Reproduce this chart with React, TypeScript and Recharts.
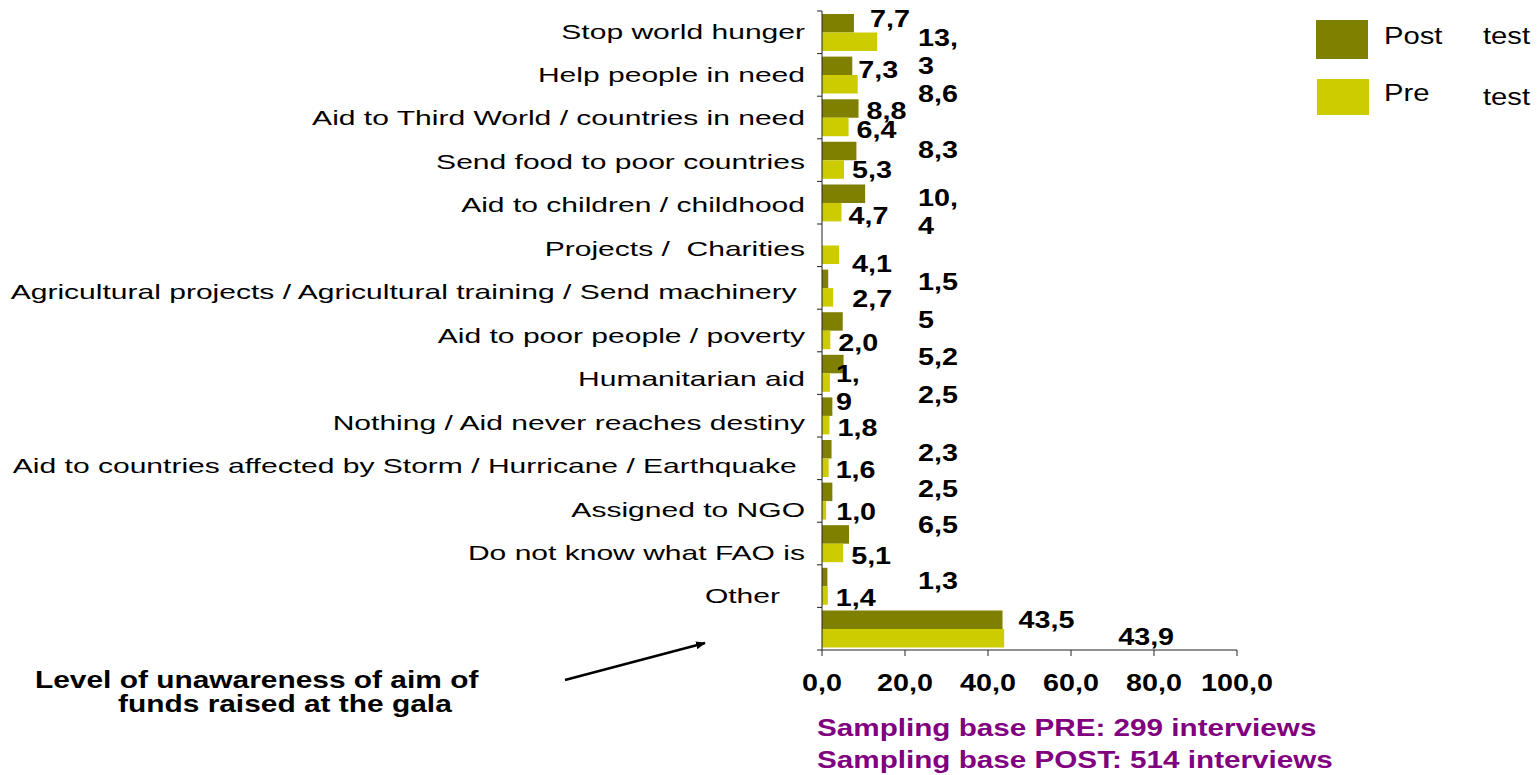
import React from 'react';
import { BarChart, Bar, XAxis, YAxis, LabelList } from 'recharts';

// Categorías (de arriba hacia abajo); la última fila es el "nivel de desconocimiento"
const CATEGORIES = [
  'Stop world hunger',
  'Help people in need',
  'Aid to Third World / countries in need',
  'Send food to poor countries',
  'Aid to children / childhood',
  'Projects /  Charities',
  'Agricultural projects / Agricultural training / Send machinery ',
  'Aid to poor people / poverty',
  'Humanitarian aid',
  'Nothing / Aid never reaches destiny',
  'Aid to countries affected by Storm / Hurricane / Earthquake ',
  'Assigned to NGO',
  'Do not know what FAO is',
  'Other   ',
  '',
];

const POST_TEST = [7.7, 7.3, 8.8, 8.3, 10.4, null, 1.5, 5, 5.2, 2.5, 2.3, 2.5, 6.5, 1.3, 43.5];
const PRE_TEST = [13.3, 8.6, 6.4, 5.3, 4.7, 4.1, 2.7, 2.0, 1.9, 1.8, 1.6, 1.0, 5.1, 1.4, 43.9];

const X_TICKS = [0, 20, 40, 60, 80, 100];

// Posición de las etiquetas (en el original fueron movidas a mano)
type LabelPos = { col?: boolean; dx?: number; dy: number; wrap?: boolean } | null;
const POST_LABEL_POS: LabelPos[] = [
  { dx: 16, dy: -4 }, { dx: 6, dy: 4 }, { dx: 8, dy: 3 }, { col: true, dy: -1 },
  { col: true, dy: 4, wrap: true }, null, { col: true, dy: 3 }, { col: true, dy: -1 },
  { col: true, dy: -7 }, { col: true, dy: -12 }, { col: true, dy: 4 }, { col: true, dy: -3 },
  { col: true, dy: -9 }, { col: true, dy: 4 }, { dx: 16, dy: 0 },
];
const PRE_LABEL_POS: LabelPos[] = [
  { col: true, dy: -4, wrap: true }, { col: true, dy: 10 }, { dx: 8, dy: 3 }, { dx: 8, dy: 0 },
  { dx: 7, dy: 4 }, { dx: 13, dy: 9 }, { dx: 19, dy: 2 }, { dx: 8, dy: 3 },
  { dx: 6, dy: -9, wrap: true }, { dx: 8, dy: 3 }, { dx: 7, dy: 2 }, { dx: 10, dy: 2 },
  { dx: 8, dy: 3 }, { dx: 8, dy: 2 }, { dx: 114, dy: -1.5 },
];

const data = CATEGORIES.map((name, i) => ({ name, post: POST_TEST[i], pre: PRE_TEST[i] }));

const POST_COLOR = '#808000';
const PRE_COLOR = '#CCCC00';
const FONT = '"Liberation Sans", Arial, sans-serif';
const PLOT_TOP = 11;
const BAND = 639 / 15;
const COL_DX = 96;

function SText({ x, y, anchor = 'start', sx = 1.27, size = 23, weight = 'bold', fill = '#000', children }: any) {
  return (
    <text
      transform={`translate(${x},${y}) scale(${sx},1)`}
      textAnchor={anchor}
      dominantBaseline="central"
      fontFamily={FONT}
      fontSize={size}
      fontWeight={weight}
      fill={fill}
      style={{ whiteSpace: 'pre' }}
    >
      {children}
    </text>
  );
}

// la fila se calcula desde la posición de la barra (LabelList omite los valores nulos)
const makeLabel = (place: LabelPos[], fmt: (v: number) => string) => (props: any) => {
  const { x, y, width, height, value } = props;
  if (value == null) return null;
  const mid = Number(y) + Number(height) / 2;
  const row = Math.floor((mid - PLOT_TOP) / BAND);
  const p = place[row];
  if (!p) return null;
  const lx = p.col ? Number(x) + COL_DX : Number(x) + Number(width) + (p.dx || 0);
  const cy = mid + p.dy;
  const txt = fmt(Number(value));
  if (p.wrap) {
    const cut = txt.indexOf(',') + 1;
    return (
      <g>
        <SText x={lx} y={cy} sx={1.25}>{txt.slice(0, cut)}</SText>
        <SText x={lx} y={cy + 28} sx={1.25}>{txt.slice(cut)}</SText>
      </g>
    );
  }
  return <SText x={lx} y={cy} sx={1.25}>{txt}</SText>;
};

const CategoryTick = (props: any) => {
  const { x, y, payload, index } = props;
  const drift = index * 0.85 - 1;
  return (
    <g>
      <line x1={x - 5} x2={x} y1={y - BAND / 2} y2={y - BAND / 2} stroke="#222" />
      {index === CATEGORIES.length - 1 && (
        <line x1={x - 5} x2={x} y1={y + BAND / 2} y2={y + BAND / 2} stroke="#222" />
      )}
      <SText x={x - 17} y={y + drift} anchor="end" size={21} sx={1.43} weight="normal">
        {payload.value}
      </SText>
    </g>
  );
};

const ValueTick = (props: any) => {
  const { x, y, payload } = props;
  return (
    <SText x={x} y={y + 25} anchor="middle" sx={1.25}>
      {Number(payload.value).toFixed(1).replace('.', ',')}
    </SText>
  );
};

export default function App() {
  return (
    <div style={{ position: 'absolute', left: 0, top: 0, width: 1538, height: 775, background: '#fff' }}>
      <BarChart
        width={1538}
        height={775}
        data={data}
        layout="vertical"
        barGap={0}
        margin={{ top: PLOT_TOP, right: 301, bottom: 65, left: 0 }}
      >
        <XAxis
          type="number"
          domain={[0, 100]}
          ticks={X_TICKS}
          height={60}
          stroke="#222"
          tickSize={6}
          tick={<ValueTick />}
        />
        <YAxis
          type="category"
          dataKey="name"
          width={822}
          stroke="#222"
          tickLine={false}
          tickSize={0}
          tickMargin={0}
          interval={0}
          tick={<CategoryTick />}
        />
        <Bar dataKey="post" fill={POST_COLOR} barSize={18.5} isAnimationActive={false}>
          <LabelList dataKey="post" content={makeLabel(POST_LABEL_POS, (v) => String(v).replace('.', ','))} />
        </Bar>
        <Bar dataKey="pre" fill={PRE_COLOR} barSize={18.5} isAnimationActive={false}>
          <LabelList dataKey="pre" content={makeLabel(PRE_LABEL_POS, (v) => v.toFixed(1).replace('.', ','))} />
        </Bar>
      </BarChart>

      {/* Leyenda y anotaciones */}
      <svg width={1538} height={775} style={{ position: 'absolute', left: 0, top: 0, pointerEvents: 'none' }}>
        <defs>
          <marker id="arrowHead" markerWidth="10" markerHeight="8" refX="9" refY="4" orient="auto" markerUnits="userSpaceOnUse">
            <path d="M0,0 L10,4 L0,8 Z" fill="#000" />
          </marker>
        </defs>
        <rect x={1316} y={20} width={52} height={39} fill={POST_COLOR} />
        <rect x={1317} y={79} width={52} height={36} fill={PRE_COLOR} />
        <SText x={1384} y={36} weight="normal">Post</SText>
        <SText x={1483} y={36} weight="normal">test</SText>
        <SText x={1384} y={93} weight="normal">Pre</SText>
        <SText x={1483} y={97} weight="normal">test</SText>

        <SText x={35} y={680} sx={1.3}>Level of unawareness of aim of</SText>
        <SText x={118} y={704} sx={1.3}>funds raised at the gala</SText>
        <line x1={565} y1={680} x2={705} y2={643} stroke="#000" strokeWidth={2.5} markerEnd="url(#arrowHead)" />

        <SText x={817} y={728} sx={1.29} fill="#800080">Sampling base PRE: 299 interviews</SText>
        <SText x={817} y={760} sx={1.29} fill="#800080">Sampling base POST: 514 interviews</SText>
      </svg>
    </div>
  );
}
